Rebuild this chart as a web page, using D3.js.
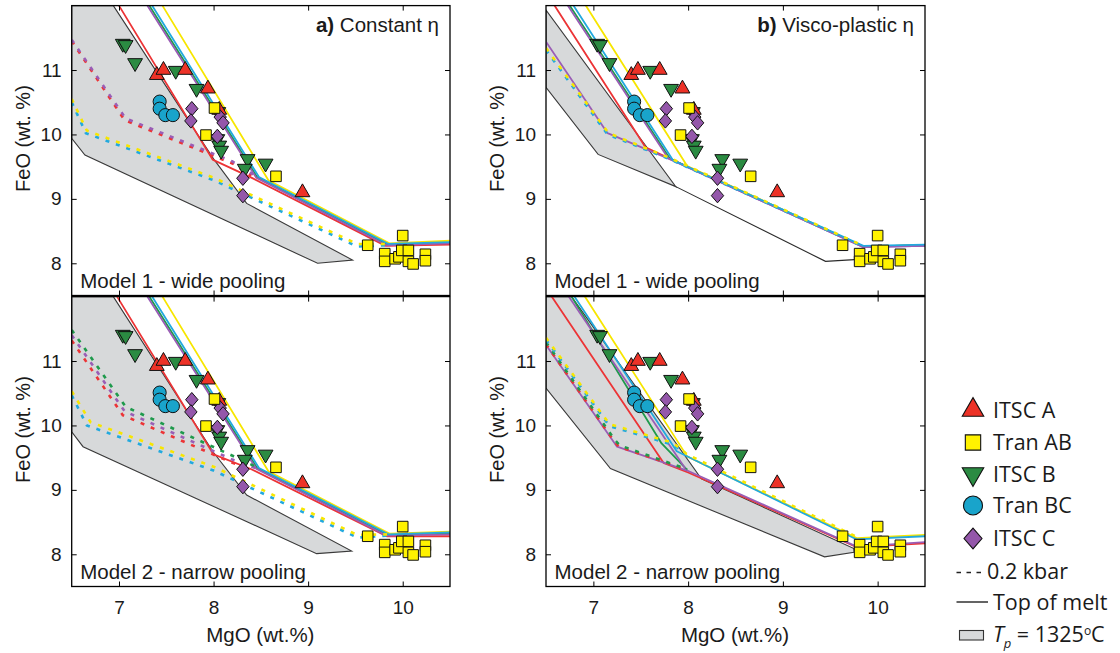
<!DOCTYPE html>
<html><head><meta charset="utf-8">
<script src="https://cdn.jsdelivr.net/npm/d3@7"></script>
<style>
body{margin:0;background:#fff;}
svg{display:block;}
text{font-family:"Liberation Sans",Arial,Helvetica,sans-serif;fill:#1a1a1a;}
</style>
</head><body>
<svg id="c" width="1120" height="653"></svg>
<script>
// ---------- axes ----------
const mgoDomain = [6.5, 10.5];
const feoDomain = [7.5, 12];
const mgoTicks = [7, 8, 9, 10];
const feoTicks = [8, 9, 10, 11];

// ---------- samples [MgO, FeO] ----------
const itscA  = [[8.06,10.38],[7.40,10.92],[7.47,11.00],[7.70,11.00],[7.94,10.71],[8.94,9.10]];
const tranAB = [[8.01,10.41],[7.92,9.99],[8.66,9.35],[9.63,8.28],[10.00,8.43],[9.81,8.15],[9.81,8.03],[9.92,8.07],[9.96,8.10],[9.99,8.20],[10.06,8.20],[10.06,8.03],[10.11,7.99],[10.24,8.14],[10.24,8.04]];
const itscB  = [[7.04,11.41],[7.07,11.39],[7.17,11.11],[7.60,10.99],[7.82,10.71],[8.05,10.35],[8.04,9.93],[8.06,9.83],[8.08,9.75],[8.36,9.62],[8.55,9.55],[8.33,9.47]];
const tranBC = [[7.43,10.51],[7.43,10.40],[7.49,10.30],[7.57,10.30]];
const itscC  = [[7.77,10.40],[7.76,10.21],[8.07,10.27],[8.10,10.18],[8.04,9.97],[8.31,9.32],[8.31,9.05]];

// ---------- panel a) Model 1 ----------
const a1Tp = [[6.5,12],[6.94,12],[8.0,9.62],[8.35,8.93],[9.47,8.05],[9.10,8.0],[6.64,9.68],[6.5,9.94]];
const a1Black = [];
const a1SolidRed    = [[7.0,12],[7.99,9.61],[8.40,9.33],[9.82,8.27],[10.5,8.29]];
const a1SolidGreen  = [[7.32,12],[8.46,9.34],[9.84,8.29],[10.5,8.32]];
const a1SolidYellow = [[7.46,12],[8.58,9.29],[9.86,8.31],[10.5,8.35]];
const a1SolidPurple = [[7.30,12],[8.45,9.33],[9.83,8.28],[10.5,8.31]];
const a1SolidCyan   = [[7.35,12],[8.48,9.34],[9.85,8.30],[10.5,8.33]];
const a1DotCyan     = [[6.5,10.50],[6.65,10.02],[8.0,9.29],[9.52,8.26],[9.85,8.28]];
const a1DotYellow   = [[6.5,10.55],[6.66,10.06],[8.0,9.33],[9.52,8.30],[9.85,8.30]];
const a1DotRed      = [[6.5,11.45],[7.06,10.22],[8.2,9.55],[8.40,9.36]];
const a1DotPurple   = [[6.5,11.47],[7.07,10.25],[8.2,9.58],[8.44,9.36]];

// ---------- panel a) Model 2 ----------
const a2Tp = [[6.5,12],[6.94,12],[8.0,9.58],[8.35,8.92],[9.46,8.05],[9.09,8.01],[6.62,9.67],[6.5,9.90]];
const a2Black = [];
const a2SolidRed    = [[6.98,12],[8.0,9.55],[8.40,9.32],[9.83,8.28],[10.5,8.28]];
const a2SolidGreen  = [[7.32,12],[8.46,9.34],[9.84,8.30],[10.5,8.32]];
const a2SolidYellow = [[7.46,12],[8.58,9.29],[9.86,8.32],[10.5,8.35]];
const a2SolidPurple = [[7.30,12],[8.45,9.33],[9.83,8.29],[10.5,8.31]];
const a2SolidCyan   = [[7.35,12],[8.48,9.34],[9.85,8.31],[10.5,8.34]];
const a2DotCyan     = [[6.5,10.47],[6.66,10.0],[8.0,9.30],[9.52,8.26],[9.85,8.29]];
const a2DotYellow   = [[6.5,10.53],[6.70,10.05],[8.0,9.36],[9.52,8.30],[9.85,8.31]];
const a2DotRed      = [[6.5,11.32],[7.04,10.16],[8.2,9.42],[8.40,9.33]];
const a2DotPurple   = [[6.5,11.40],[7.06,10.22],[8.2,9.47],[8.44,9.34]];
const a2DotGreen    = [[6.5,11.48],[7.07,10.29],[8.2,9.53],[8.46,9.35]];

// ---------- panel b) Model 1 ----------
const b1Tp = [[6.5,11.93],[7.87,9.19],[7.05,9.69],[6.5,10.73]];
const b1Black = [[7.87,9.19],[9.45,8.03],[9.80,8.06]];
const b1SolidRed    = [[6.59,12],[7.55,9.80],[7.80,9.63],[9.85,8.26],[10.5,8.28]];
const b1SolidGreen  = [[6.75,12],[7.81,9.62],[9.85,8.26],[10.5,8.28]];
const b1SolidYellow = [[6.92,12],[7.99,9.51],[9.85,8.26],[10.5,8.28]];
const b1SolidPurple = [[6.73,12],[7.79,9.63],[9.85,8.25],[10.5,8.27]];
const b1SolidPurple2= [[6.5,11.44],[7.15,10.02],[7.80,9.62],[9.85,8.25],[10.5,8.27]];
const b1SolidCyan   = [[6.79,12],[7.84,9.60],[9.85,8.27],[10.5,8.29]];
const b1DotCyan     = [[6.5,11.31],[7.15,10.0],[7.80,9.62],[9.85,8.26]];
const b1DotYellow   = [[6.5,11.34],[7.16,10.02],[7.80,9.64],[9.85,8.27]];

// ---------- panel b) Model 2 ----------
const b2Tp = [[6.5,12],[6.77,12],[8.14,9.17],[9.75,8.09],[9.75,8.03],[9.44,7.96],[7.18,9.33],[6.5,10.58]];
const b2Black = [];
const b2SolidRed    = [[6.56,12],[7.74,9.42],[8.0,9.27],[9.78,8.11],[10.5,8.17]];
const b2SolidGreen  = [[6.77,12],[7.72,9.72],[7.99,9.31]];
const b2SolidYellow = [[6.91,12],[7.99,9.52],[9.78,8.25],[10.5,8.30]];
const b2SolidPurple = [[6.74,12],[7.97,9.33]];
const b2SolidPurple2= [[6.5,11.25],[7.25,9.67],[7.99,9.30],[9.78,8.12],[10.5,8.19]];
const b2SolidCyan   = [[6.80,12],[7.88,9.60],[9.78,8.23],[10.5,8.28]];
const b2DotRed      = [[6.5,11.26],[7.22,9.75],[7.27,9.67],[7.99,9.31]];
const b2DotGreen    = [[6.5,11.29],[7.23,9.77],[7.28,9.69],[7.99,9.32]];
const b2DotCyan     = [[6.5,11.33],[7.17,9.99],[7.84,9.70],[7.97,9.57]];
const b2DotYellow   = [[6.5,11.36],[7.17,10.02],[7.84,9.73],[7.99,9.55],[9.78,8.27]];

// ---------- text ----------
const panelTags = ["a)", "a)", "b)", "b)"];
const panelTitles = [" Constant η", "", " Visco-plastic η", ""];
const modelLabels = ["Model 1 - wide pooling", "Model 2 - narrow pooling", "Model 1 - wide pooling", "Model 2 - narrow pooling"];
const legendSamples = ["ITSC A", "Tran AB", "ITSC B", "Tran BC", "ITSC C"];
const legendLines = ["0.2 kbar", "Top of melt"];

// ---------- styles ----------
const lineColor = {red:"#ec3436", green:"#1f9a4c", yellow:"#f7e600", purple:"#9a5db5", cyan:"#22a9de"};
const sampleStyle = {
  "ITSC A": {fill:"#ed3227", shape:"up"},
  "Tran AB":{fill:"#fff200", shape:"square"},
  "ITSC B": {fill:"#2b8b42", shape:"down"},
  "Tran BC":{fill:"#19a4cb", shape:"circle"},
  "ITSC C": {fill:"#9457aa", shape:"diamond"}
};
const sampleData = {"ITSC A":itscA, "Tran AB":tranAB, "ITSC B":itscB, "Tran BC":tranBC, "ITSC C":itscC};
const drawOrder = ["ITSC B","ITSC A","Tran BC","ITSC C","Tran AB"];

const panels = [
  {x0:71.7, x1:450, y0:5.6,   y1:295.5, tp:a1Tp, black:a1Black,
   solid:[["red",a1SolidRed],["green",a1SolidGreen],["yellow",a1SolidYellow],["purple",a1SolidPurple],["cyan",a1SolidCyan]],
   dotted:[["cyan",a1DotCyan],["yellow",a1DotYellow],["red",a1DotRed],["purple",a1DotPurple]], xl:false},
  {x0:71.7, x1:450, y0:296.6, y1:586.5, tp:a2Tp, black:a2Black,
   solid:[["red",a2SolidRed],["green",a2SolidGreen],["yellow",a2SolidYellow],["purple",a2SolidPurple],["cyan",a2SolidCyan]],
   dotted:[["cyan",a2DotCyan],["yellow",a2DotYellow],["red",a2DotRed],["purple",a2DotPurple],["green",a2DotGreen]], xl:true},
  {x0:546, x1:925, y0:5.6,   y1:295.5, tp:b1Tp, black:b1Black,
   solid:[["red",b1SolidRed],["green",b1SolidGreen],["yellow",b1SolidYellow],["purple",b1SolidPurple],["purple",b1SolidPurple2],["cyan",b1SolidCyan]],
   dotted:[["cyan",b1DotCyan],["yellow",b1DotYellow]], xl:false},
  {x0:546, x1:925, y0:296.6, y1:586.5, tp:b2Tp, black:b2Black,
   solid:[["red",b2SolidRed],["green",b2SolidGreen],["purple",b2SolidPurple],["yellow",b2SolidYellow],["purple",b2SolidPurple2],["cyan",b2SolidCyan]],
   dotted:[["red",b2DotRed],["green",b2DotGreen],["cyan",b2DotCyan],["yellow",b2DotYellow]], xl:true}
];

const svg = d3.select("#c");
const defs = svg.append("defs");

function markerPath(shape, s) {
  if (shape === "up") return d3.symbol(d3.symbolTriangle, 95*s*s)();
  if (shape === "down") return d3.symbol(d3.symbolTriangle, 95*s*s)();
  if (shape === "square") return d3.symbol(d3.symbolSquare, 112*s*s)();
  if (shape === "circle") return d3.symbol(d3.symbolCircle, 135*s*s)();
  const w = 6.2*s, h = 7.2*s;
  return `M0,${-h}L${w},0L0,${h}L${-w},0Z`;
}

panels.forEach((p, i) => {
  const x = d3.scaleLinear().domain(mgoDomain).range([p.x0, p.x1]);
  const y = d3.scaleLinear().domain(feoDomain).range([p.y1, p.y0]);
  const line = d3.line().x(d => x(d[0])).y(d => y(d[1]));
  const g = svg.append("g");
  const cid = "clip" + i;
  defs.append("clipPath").attr("id", cid).append("rect")
    .attr("x", p.x0).attr("y", p.y0).attr("width", p.x1 - p.x0).attr("height", p.y1 - p.y0);
  const plot = g.append("g").attr("clip-path", `url(#${cid})`);

  plot.append("path").attr("d", line(p.tp) + "Z")
    .attr("fill", "#d7d9da").attr("stroke", "#3a3a3a").attr("stroke-width", 1.1);
  if (p.black.length) plot.append("path").attr("d", line(p.black))
    .attr("fill", "none").attr("stroke", "#2a2a2a").attr("stroke-width", 1.1);

  p.solid.forEach(([c, pts]) => {
    plot.append("path").attr("d", line(pts)).attr("fill", "none")
      .attr("stroke", lineColor[c]).attr("stroke-width", 1.8).attr("stroke-linejoin", "round");
  });
  p.dotted.forEach(([c, pts]) => {
    plot.append("path").attr("d", line(pts)).attr("fill", "none")
      .attr("stroke", lineColor[c]).attr("stroke-width", 2.6).attr("stroke-dasharray", "4,7");
  });

  // markers
  drawOrder.forEach(name => {
    const st = sampleStyle[name];
    g.append("g").selectAll("path").data(sampleData[name]).join("path")
      .attr("d", markerPath(st.shape, 1))
      .attr("transform", d => `translate(${x(d[0])},${y(d[1])})` + (st.shape === "down" ? " rotate(180)" : ""))
      .attr("fill", st.fill).attr("stroke", "#111").attr("stroke-width", 1);
  });

  // frame & ticks
  g.append("rect").attr("x", p.x0).attr("y", p.y0).attr("width", p.x1 - p.x0).attr("height", p.y1 - p.y0)
    .attr("fill", "none").attr("stroke", "#000").attr("stroke-width", 1.3);
  const fmt = d3.format("d");
  const ax = [
    [d3.axisLeft(y).tickValues(feoTicks).tickSize(-5).tickPadding(10).tickFormat(fmt), `translate(${p.x0},0)`],
    [d3.axisRight(y).tickValues(feoTicks).tickSize(-5).tickFormat(""), `translate(${p.x1},0)`],
    [d3.axisTop(x).tickValues(mgoTicks).tickSize(-5).tickFormat(""), `translate(0,${p.y0})`],
    [d3.axisBottom(x).tickValues(mgoTicks).tickSize(-5).tickPadding(14).tickFormat(p.xl ? fmt : ""), `translate(0,${p.y1})`]
  ];
  ax.forEach(([a, t]) => {
    const ag = g.append("g").attr("transform", t).call(a);
    ag.select(".domain").remove();
    ag.selectAll("line").attr("stroke", "#000");
    ag.selectAll("text").style("font-size", "19px").attr("fill", "#1a1a1a")
      .style("font-family", '"Liberation Sans",Arial,sans-serif');
  });

  // titles
  if (panelTitles[i]) {
    const t = g.append("text").attr("x", p.x1 - 11).attr("y", 31.5).attr("text-anchor", "end").style("font-size", "20.5px");
    t.append("tspan").attr("font-weight", "bold").text(panelTags[i]);
    t.append("tspan").text(panelTitles[i]);
  }
  g.append("text").attr("x", p.x0 + 8.5).attr("y", p.y1 - 7.5).style("font-size", "20.5px").text(modelLabels[i]);

  // axis labels
  const lx = p.x0 - 42;
  g.append("text").attr("transform", `translate(${lx},${(p.y0 + p.y1) / 2 - 12}) rotate(-90)`)
    .attr("text-anchor", "middle").style("font-size", "20px").text("FeO (wt. %)");
  if (p.xl) g.append("text").attr("x", (p.x0 + p.x1) / 2 - 0.5).attr("y", 642)
    .attr("text-anchor", "middle").style("font-size", "20.5px").text("MgO (wt.%)");
});

// ---------- legend ----------
const lg = svg.append("g");
const lgFont = '"Open Sans","Liberation Sans",Arial,sans-serif';
const rowY = [410, 442.5, 474, 505.5, 538.5];
legendSamples.forEach((name, k) => {
  const st = sampleStyle[name];
  lg.append("path").attr("d", markerPath(st.shape, 1.45))
    .attr("transform", `translate(973,${rowY[k]})` + (st.shape === "down" ? " rotate(180)" : ""))
    .attr("fill", st.fill).attr("stroke", "#111").attr("stroke-width", 1.1);
  lg.append("text").attr("x", 993).attr("y", rowY[k] + 7.5).style("font-family", lgFont).style("font-size", "21.5px").text(name);
});
lg.append("line").attr("x1", 956.5).attr("x2", 982).attr("y1", 572.5).attr("y2", 572.5)
  .attr("stroke", "#222").attr("stroke-width", 1.6).attr("stroke-dasharray", "4.5,5.5");
lg.append("text").attr("x", 987).attr("y", 579).style("font-family", lgFont).style("font-size", "21.5px").text(legendLines[0]);
lg.append("line").attr("x1", 956.5).attr("x2", 988).attr("y1", 602).attr("y2", 602)
  .attr("stroke", "#222").attr("stroke-width", 1.4);
lg.append("text").attr("x", 993).attr("y", 610).style("font-family", lgFont).style("font-size", "21.5px").text(legendLines[1]);
lg.append("rect").attr("x", 959.5).attr("y", 630.5).attr("width", 24).attr("height", 9.5)
  .attr("fill", "#d7d9da").attr("stroke", "#333").attr("stroke-width", 1.1);
const tp = lg.append("text").attr("x", 993).attr("y", 642).style("font-family", lgFont).style("font-size", "21.5px");
tp.append("tspan").attr("font-style", "italic").text("T");
tp.append("tspan").attr("font-style", "italic").attr("dy", 6).style("font-size", "13px").text("p");
tp.append("tspan").attr("dy", -6).text(" = 1325");
tp.append("tspan").attr("dy", -7).style("font-size", "12px").text("o");
tp.append("tspan").attr("dy", 7).text("C");
</script>
</body></html>
